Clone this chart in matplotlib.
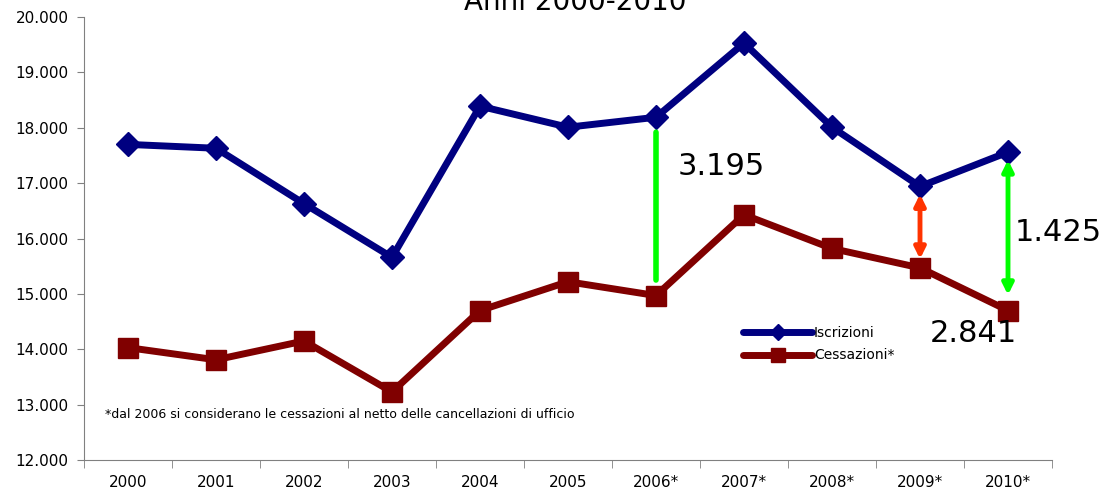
import matplotlib
matplotlib.use('Agg')
import matplotlib.pyplot as plt
from matplotlib.ticker import FuncFormatter, FixedLocator

years = ['2000', '2001', '2002', '2003', '2004', '2005', '2006*', '2007*', '2008*', '2009*', '2010*']
iscrizioni = [17700, 17630, 16630, 15660, 18390, 18010, 18190, 19530, 18010, 16940, 17560]
cessazioni = [14030, 13810, 14150, 13230, 14700, 15220, 14970, 16430, 15820, 15470, 14700]
diff_labels = ['3.195', '1.425', '2.841']

BLUE = '#000080'
DARKRED = '#800000'
GREEN = '#00ff00'
ORANGE = '#ff3300'
SPINE = '#808080'

plt.rcParams['font.family'] = ['DejaVu Sans']

fig = plt.figure(figsize=(11.11, 4.92), dpi=100)
ax = fig.add_axes([0.0756, 0.065, 0.8713, 0.9004])

x = list(range(len(years)))
ax.plot(x, iscrizioni, color=BLUE, lw=5, marker='D', markersize=12, label='Iscrizioni',
        solid_capstyle='round')
ax.plot(x, cessazioni, color=DARKRED, lw=5, marker='s', markersize=15, label='Cessazioni*',
        solid_capstyle='round')

# difference arrows
ax.annotate('', xy=(6, 15200), xytext=(6, 17970),
            arrowprops=dict(arrowstyle='-', color=GREEN, lw=4))
ax.annotate('', xy=(9, 15580), xytext=(9, 16850),
            arrowprops=dict(arrowstyle='<|-|>', color=ORANGE, lw=3.5, mutation_scale=16))
ax.annotate('', xy=(10, 14930), xytext=(10, 17470),
            arrowprops=dict(arrowstyle='<|-|>', color=GREEN, lw=3.5, mutation_scale=16))

ax.text(6.25, 17300, diff_labels[0], fontsize=22, va='center', ha='left')
ax.text(10.08, 16110, diff_labels[1], fontsize=22, va='center', ha='left', clip_on=False)
ax.text(9.11, 14280, diff_labels[2], fontsize=22, va='center', ha='left')

ax.text(-0.26, 12815, '*dal 2006 si considerano le cessazioni al netto delle cancellazioni di ufficio',
        fontsize=9, va='center', ha='left')

ax.set_xlim(-0.5, 10.5)
ax.set_ylim(12000, 20000)
ax.set_yticks(range(12000, 20001, 1000))
ax.yaxis.set_major_formatter(FuncFormatter(lambda v, p: f'{int(v):,}'.replace(',', '.')))
ax.set_xticks(x)
ax.set_xticklabels(years)
ax.xaxis.set_minor_locator(FixedLocator([i - 0.5 for i in range(len(years) + 1)]))
ax.tick_params(axis='x', which='major', length=0, pad=11, labelsize=11)
ax.tick_params(axis='x', which='minor', length=6, direction='out', color=SPINE)
ax.tick_params(axis='y', length=5, color=SPINE, labelsize=11, pad=6)

for s in ['top', 'right']:
    ax.spines[s].set_visible(False)
for s in ['left', 'bottom']:
    ax.spines[s].set_color(SPINE)

leg = ax.legend(loc='upper left', bbox_to_anchor=(0.675, 0.315), frameon=False, fontsize=10,
                handlelength=5, handletextpad=0.1, labelspacing=0.6, borderaxespad=0,
                markerscale=0.7)

fig.text(0.518, 0.995, 'Anni 2000-2010', fontsize=20, ha='center', va='center')

fig.savefig('out.png', dpi=100)
